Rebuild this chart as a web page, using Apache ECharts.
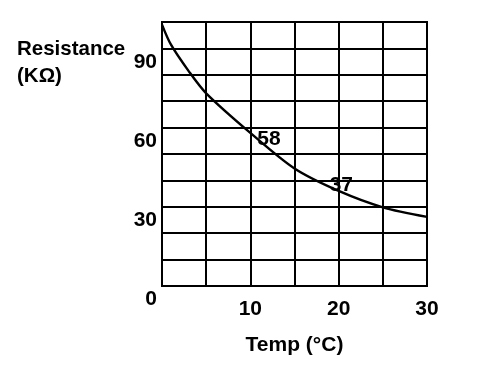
<!DOCTYPE html>
<html>
<head>
<meta charset="utf-8">
<script src="https://cdn.jsdelivr.net/npm/echarts@6/dist/echarts.min.js"></script>
<style>
html,body{margin:0;padding:0;background:#fff;}
#c{width:480px;height:368px;}
</style>
</head>
<body>
<div id="c"></div>
<script>
var temps = [0, 1, 3, 5, 10, 15, 20, 25, 30];
var resistance = [99, 91.5, 81.5, 73, 58, 44.5, 36, 29.8, 26.2];
var annotTemps = [10, 20];
var annotValues = [58, 37];
var yTickLabels = [0, 30, 60, 90];
var xTickLabels = [10, 20, 30];
var xName = 'Temp (°C)';
var yName = 'Resistance\n(KΩ)';

var font = 'Liberation Sans, Arial, Helvetica, sans-serif';
var chart = echarts.init(document.getElementById('c'), null, {renderer: 'canvas'});
var curve = temps.map(function (t, i) { return [t, resistance[i]]; });
var annots = annotTemps.map(function (t, i) { return [t, annotValues[i]]; });
var annotOffsets = [[2, 6], [-14, -3]];

chart.setOption({
  animation: false,
  backgroundColor: '#fff',
  title: {
    text: yName,
    left: 12,
    top: 31,
    textStyle: {fontFamily: font, fontSize: 20.5, fontWeight: 'bold', color: '#000', lineHeight: 27}
  },
  grid: {left: 162, right: 53, top: 22, bottom: 82, show: true, borderColor: '#000', borderWidth: 2},
  xAxis: {
    type: 'value', min: 0, max: 30, interval: 5,
    name: xName, nameLocation: 'middle', nameGap: 49,
    nameTextStyle: {fontFamily: font, fontSize: 21, fontWeight: 'bold', color: '#000'},
    axisLine: {show: true, lineStyle: {color: '#000', width: 2}},
    axisTick: {show: false},
    splitLine: {show: true, lineStyle: {color: '#000', width: 2}},
    axisLabel: {
      fontFamily: font, fontSize: 21, fontWeight: 'bold', color: '#000', margin: 13,
      formatter: function (v) { return xTickLabels.indexOf(v) >= 0 ? String(v) : ''; }
    }
  },
  yAxis: {
    type: 'value', min: 0, max: 100, interval: 10,
    axisLine: {show: true, lineStyle: {color: '#000', width: 2}},
    axisTick: {show: false},
    splitLine: {show: true, lineStyle: {color: '#000', width: 2}},
    axisLabel: {
      fontFamily: font, fontSize: 21, fontWeight: 'bold', color: '#000', margin: 5,
      verticalAlign: 'top', padding: [3, 0, 0, 0],
      formatter: function (v) { return yTickLabels.indexOf(v) >= 0 ? String(v) : ''; }
    }
  },
  series: [
    {
      type: 'line', data: curve, smooth: 0.3, showSymbol: false,
      lineStyle: {color: '#000', width: 2.4}
    },
    {
      type: 'scatter', symbolSize: 0,
      itemStyle: {opacity: 1, color: '#000'},
      data: annots.map(function (p, i) {
        return {value: p, label: {offset: annotOffsets[i]}};
      }),
      label: {
        show: true, position: 'right', fontFamily: font, fontSize: 21, fontWeight: 'bold', color: '#000',
        opacity: 1,
        formatter: function (p) { return String(p.value[1]); }
      }
    }
  ]
});
</script>
</body>
</html>
